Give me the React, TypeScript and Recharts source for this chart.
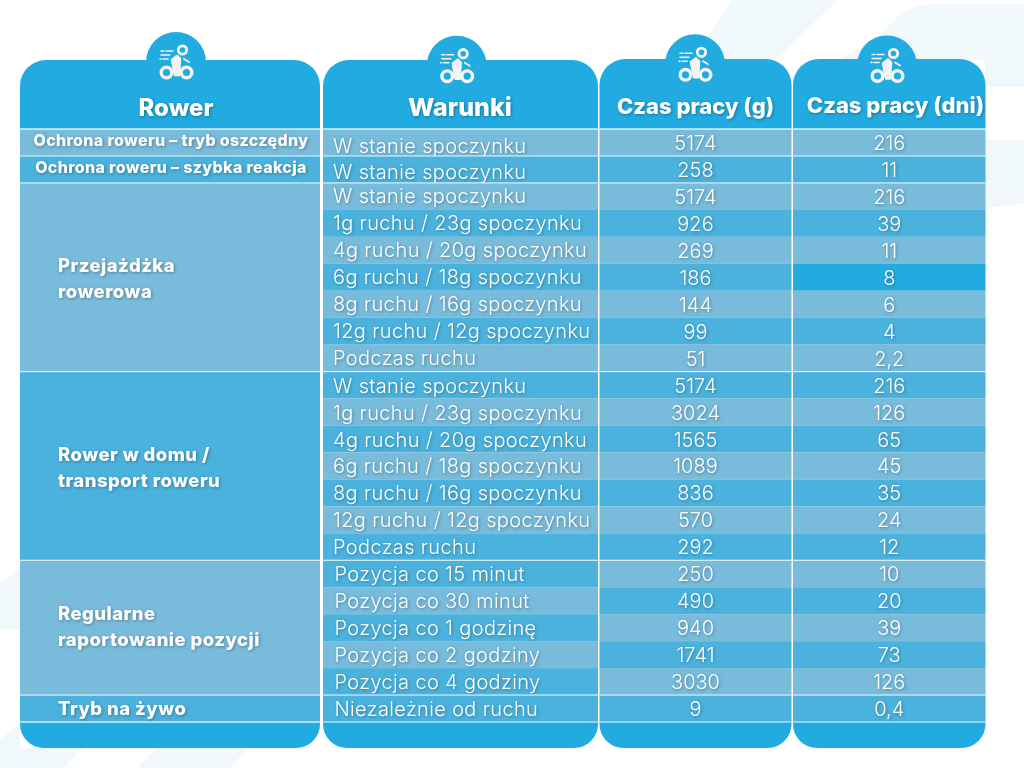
import React from 'react';
import { BarChart, Bar, XAxis, YAxis } from 'recharts';

const columnTitles = ['Rower', 'Warunki', 'Czas pracy (g)', 'Czas pracy (dni)'];

const groupTitles = [
  ['Ochrona roweru – tryb oszczędny'],
  ['Ochrona roweru – szybka reakcja'],
  ['Przejażdżka', 'rowerowa'],
  ['Rower w domu /', 'transport roweru'],
  ['Regularne', 'raportowanie pozycji'],
  ['Tryb na żywo'],
];
const groupSpans = [1, 1, 7, 7, 5, 1];

const conditions = [
  'W stanie spoczynku',
  'W stanie spoczynku',
  'W stanie spoczynku',
  '1g ruchu / 23g spoczynku',
  '4g ruchu / 20g spoczynku',
  '6g ruchu / 18g spoczynku',
  '8g ruchu / 16g spoczynku',
  '12g ruchu / 12g spoczynku',
  'Podczas ruchu',
  'W stanie spoczynku',
  '1g ruchu / 23g spoczynku',
  '4g ruchu / 20g spoczynku',
  '6g ruchu / 18g spoczynku',
  '8g ruchu / 16g spoczynku',
  '12g ruchu / 12g spoczynku',
  'Podczas ruchu',
  'Pozycja co 15 minut',
  'Pozycja co 30 minut',
  'Pozycja co 1 godzinę',
  'Pozycja co 2 godziny',
  'Pozycja co 4 godziny',
  'Niezależnie od ruchu',
];
const hours = ['5174', '258', '5174', '926', '269', '186', '144', '99', '51', '5174', '3024', '1565', '1089', '836', '570', '292', '250', '490', '940', '1741', '3030', '9'];
const days = ['216', '11', '216', '39', '11', '8', '6', '4', '2,2', '216', '126', '65', '45', '35', '24', '12', '10', '20', '39', '73', '126', '0,4'];

// layout and look, not data
const FONT = 'Inter, sans-serif';
const BLUE = '#21abe1';
const LIGHT = '#78bbda';
const MID = '#4ab2dd';
const ICON = '#f4f4f4';
const SHADOW = 'drop-shadow(1px 1.5px 1.5px rgba(0,0,0,0.3))';
const columnWidths = [303, 276.5, 193.5, 192.5];
const columnGaps = [3, 1.5, 1.5, 0];
const headerHeights = [69, 69, 70, 70];
const bumpX = [156, 133.7, 95.5, 94];
const bumpY = [-67, -63.3, -64.7, -63.5];
const titleX = [156, 137, 96, 102.5];
const titleY = [-13, -13, -15, -16];
const titleSize = [24, 25, 22, 22];

const rows = conditions.map((condition, row) => ({
  row,
  condition,
  hours: hours[row],
  days: days[row],
  col0: columnWidths[0],
  col1: columnWidths[1],
  col2: columnWidths[2],
  col3: columnWidths[3],
}));

const groupStarts = groupSpans.map((_, i) => groupSpans.slice(0, i).reduce((a, b) => a + b, 0));
const lastRow = conditions.length - 1;

const RiderIcon = ({ cx, cy }: { cx: number; cy: number }) => (
  <g fill="none" stroke={ICON} strokeLinecap="round" strokeLinejoin="round">
    <circle cx={cx - 9.5} cy={cy + 10.5} r={5.3} strokeWidth={3.4} />
    <circle cx={cx + 10.5} cy={cy + 10.5} r={5.3} strokeWidth={3.4} />
    <circle cx={cx + 6.5} cy={cy - 12} r={4.2} strokeWidth={2.8} />
    <path d={`M${cx - 4} ${cy - 2} L${cx + 1} ${cy - 6} L${cx + 4} ${cy - 3} L${cx + 3} ${cy + 13} L${cx - 1} ${cy + 13} Z`} fill={ICON} strokeWidth={2.5} />
    <path d={`M${cx + 8} ${cy - 3} L${cx + 13} ${cy}`} strokeWidth={1.8} />
    <path d={`M${cx - 15} ${cy - 11} H${cx - 12} M${cx - 10} ${cy - 11} H${cx - 3}`} strokeWidth={1.5} />
    <path d={`M${cx - 15} ${cy - 7} H${cx - 6}`} strokeWidth={1.5} />
    <path d={`M${cx - 16} ${cy - 3} H${cx - 15} M${cx - 13} ${cy - 3} H${cx - 8}`} strokeWidth={1.5} />
  </g>
);

// panel top with the round icon tab and the column title, hung above the first row
const ColumnHead = ({ col, x, y, width }: any) => {
  const top = y - headerHeights[col];
  const r = 26;
  const cx = x + bumpX[col];
  const cy = y + bumpY[col];
  return (
    <g>
      <circle cx={cx} cy={cy} r={30} fill={BLUE} />
      <path
        d={`M${x} ${y} V${top + r} A${r} ${r} 0 0 1 ${x + r} ${top} H${x + width - r} A${r} ${r} 0 0 1 ${x + width} ${top + r} V${y} Z`}
        fill={BLUE}
      />
      <RiderIcon cx={cx} cy={cy} />
      <text
        x={x + titleX[col]}
        y={y + titleY[col]}
        textAnchor="middle"
        fontFamily={FONT}
        fontWeight={800}
        fontSize={titleSize[col]}
        fill="#fff"
        style={{ filter: SHADOW }}
      >
        {columnTitles[col]}
      </text>
    </g>
  );
};

const ColumnFoot = ({ x, y, width }: any) => {
  const r = 24;
  const bottom = y + 26;
  return (
    <path
      d={`M${x} ${y} V${bottom - r} A${r} ${r} 0 0 0 ${x + r} ${bottom} H${x + width - r} A${r} ${r} 0 0 0 ${x + width} ${bottom - r} V${y} Z`}
      fill={BLUE}
    />
  );
};

const Ends = ({ col, index, x, y, width, height }: any) => (
  <>
    {index === 0 && <ColumnHead col={col} x={x} y={y} width={width} />}
    {index === lastRow && <ColumnFoot x={x} y={y + height} width={width} />}
  </>
);

const Rule = ({ x, y, width, opacity }: any) => (
  <rect x={x} y={y - 0.6} width={width} height={1.2} fill="#fff" opacity={opacity} />
);

// merged first column: the first row of a group draws the whole block
const GroupCell = (props: any) => {
  const { index, x, y, width, height } = props;
  const group = groupStarts.indexOf(index);
  const w = width - columnGaps[0];
  const endsOnly = <Ends col={0} {...props} width={w} />;
  if (group < 0) return <g>{endsOnly}</g>;
  const span = groupSpans[group];
  const lines = groupTitles[group];
  const small = group < 2;
  const firstBase = [17, 17, 89, 89, 60, 20][group];
  return (
    <g>
      {endsOnly}
      <rect x={x} y={y} width={w} height={height * span} fill={group % 2 === 0 ? LIGHT : MID} />
      <Rule x={x} y={y} width={w} opacity={index === 0 ? 1 : 0.75} />
      {index + span > lastRow && <Rule x={x} y={y + height * span} width={w} opacity={1} />}
      {lines.map((line, i) => (
        <text
          key={line}
          x={small ? x + width / 2 - 0.5 : x + 38}
          y={y + firstBase + i * 26}
          textAnchor={small ? 'middle' : 'start'}
          fontFamily={FONT}
          fontWeight={800}
          fontSize={small ? 16 : 18.5}
          letterSpacing={small ? 0.33 : 0.45}
          fill="#fff"
          style={{ filter: SHADOW }}
        >
          {line}
        </text>
      ))}
    </g>
  );
};

const conditionTint = (row: number) => {
  if (row < 16) return row % 2 === 0 ? LIGHT : MID;
  return row % 2 === 0 ? MID : row === 21 ? MID : LIGHT;
};
const valueTint = (row: number) => (row % 2 === 0 ? LIGHT : MID);

const conditionBaseline = (row: number) => (row < 2 ? 23.5 : row < 9 ? 20 : 21);

const ConditionCell = (props: any) => {
  const { index, x, y, width, height, condition } = props;
  const w = width - columnGaps[1];
  return (
    <g>
      <Ends col={1} {...props} width={w} />
      <rect x={x} y={y} width={w} height={height} fill={conditionTint(index)} />
      {groupStarts.includes(index) && <Rule x={x} y={y} width={w} opacity={index === 0 ? 1 : 0.75} />}
      {index === lastRow && <Rule x={x} y={y + height} width={w} opacity={0.75} />}
      <text
        x={x + (index >= 16 ? 11.5 : 10)}
        y={y + conditionBaseline(index)}
        fontFamily={FONT}
        fontWeight={300}
        fontSize={20}
        letterSpacing={0.35}
        fill="#fff"
        style={{ filter: SHADOW }}
      >
        {condition}
      </text>
    </g>
  );
};

const valueCell = (col: number, field: 'hours' | 'days') => (props: any) => {
  const { index, x, y, width, height } = props;
  const w = width - columnGaps[col];
  const fill = col === 3 && index === 5 ? BLUE : valueTint(index);
  return (
    <g>
      <Ends col={col} {...props} width={w} />
      <rect x={x} y={y} width={w} height={height} fill={fill} />
      {groupStarts.includes(index) && <Rule x={x} y={y} width={w} opacity={index === 0 ? 1 : 0.75} />}
      {index === lastRow && <Rule x={x} y={y + height} width={w} opacity={0.75} />}
      <text
        x={x + w / 2}
        y={y + 21}
        textAnchor="middle"
        fontFamily={FONT}
        fontWeight={300}
        fontSize={20}
        fill="#fff"
        style={{ filter: SHADOW }}
      >
        {props[field]}
      </text>
    </g>
  );
};

const Backdrop = () => (
  <svg width={1024} height={768} style={{ position: 'absolute', left: 0, top: 0 }}>
    <g fill="#f1f8fc">
      <polygon points="732,0 838,0 775,60 692,60" />
      <path d="M1024 4 H935 Q905 4 885 30 L840 60 H1024 Z" />
      <rect x={985} y={60} width={39} height={27} />
      <path d="M985 140 H1024 V203 Q1000 207 990 207 L985 212 Z" />
      <polygon points="0,583 20,568 20,630 0,630" />
      <polygon points="0,740 20,723 20,748 83,748 63,768 0,768" />
      <polygon points="137,768 157,748 248,748 230,768" />
    </g>
  </svg>
);

export default function App() {
  return (
    <div style={{ position: 'absolute', left: 0, top: 0, width: 1024, height: 768, background: '#fff' }}>
      <Backdrop />
      <div style={{ position: 'absolute', left: 0, top: 0 }}>
        <BarChart
          width={1024}
          height={768}
          data={rows}
          layout="vertical"
          barCategoryGap={0}
          margin={{ top: 129, right: 38.5, bottom: 46, left: 20 }}
        >
          <XAxis type="number" hide domain={[0, 965.5]} />
          <YAxis type="category" dataKey="row" hide />
          <Bar dataKey="col0" stackId="table" isAnimationActive={false} shape={GroupCell} />
          <Bar dataKey="col1" stackId="table" isAnimationActive={false} shape={ConditionCell} />
          <Bar dataKey="col2" stackId="table" isAnimationActive={false} shape={valueCell(2, 'hours')} />
          <Bar dataKey="col3" stackId="table" isAnimationActive={false} shape={valueCell(3, 'days')} />
        </BarChart>
      </div>
    </div>
  );
}
